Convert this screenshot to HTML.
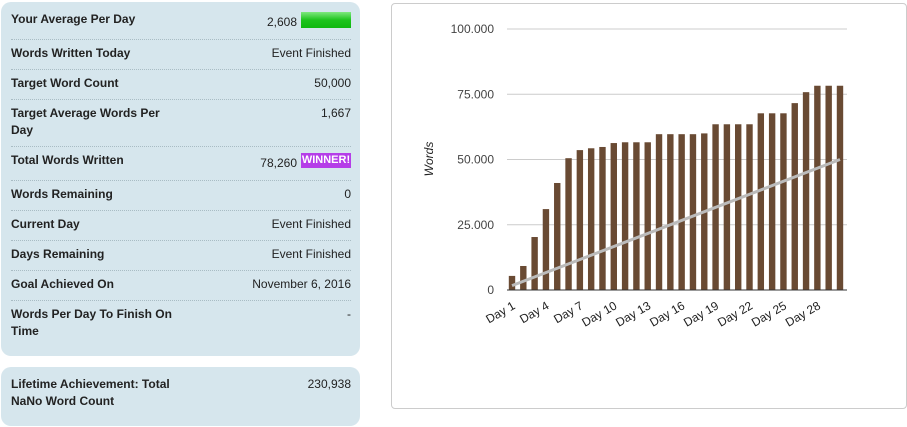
<!DOCTYPE html>
<html><head><meta charset="utf-8"><style>
body{margin:0;width:907px;height:427px;background:#fff;font-family:"Liberation Sans",Arial,sans-serif;font-size:12px;color:#222;position:relative;overflow:hidden}
.p{position:absolute;background:#d6e6ed;border-radius:10px}
.l{position:absolute;left:11px;font-weight:bold;line-height:17px;width:170px}
.v{position:absolute;left:200px;width:151px;line-height:17px;text-align:right;white-space:nowrap}
.d{position:absolute;left:11px;width:340px;border-top:1px dotted #a9bcc4}
</style></head><body>
<div class="p" style="left:1px;top:2px;width:359px;height:354px"></div>
<div class="p" style="left:1px;top:367px;width:359px;height:59px"></div>

<div class="l" style="top:11px">Your Average Per Day</div>
<div class="v" style="top:14px;width:97px">2,608</div>
<div style="position:absolute;left:301px;top:12px;width:50px;height:16px;background:linear-gradient(#7ee87e,#1dc41d 50%,#0fb80f)"></div>
<div class="d" style="top:39px"></div>
<div class="l" style="top:45px">Words Written Today</div>
<div class="v" style="top:45px">Event Finished</div>
<div class="d" style="top:69px"></div>
<div class="l" style="top:75px">Target Word Count</div>
<div class="v" style="top:75px">50,000</div>
<div class="d" style="top:99px"></div>
<div class="l" style="top:105px">Target Average Words Per Day</div>
<div class="v" style="top:105px">1,667</div>
<div class="d" style="top:146px"></div>
<div class="l" style="top:152px">Total Words Written</div>
<div class="v" style="top:155px;width:97px">78,260</div>
<div style="position:absolute;left:301px;top:153px;width:50px;height:15px;background:#b53ee8;color:#fff;font-weight:bold;font-size:11px;line-height:15px;text-align:center">WINNER!</div>
<div class="d" style="top:180px"></div>
<div class="l" style="top:186px">Words Remaining</div>
<div class="v" style="top:186px">0</div>
<div class="d" style="top:210px"></div>
<div class="l" style="top:216px">Current Day</div>
<div class="v" style="top:216px">Event Finished</div>
<div class="d" style="top:240px"></div>
<div class="l" style="top:246px">Days Remaining</div>
<div class="v" style="top:246px">Event Finished</div>
<div class="d" style="top:270px"></div>
<div class="l" style="top:276px">Goal Achieved On</div>
<div class="v" style="top:276px">November 6, 2016</div>
<div class="d" style="top:300px"></div>
<div class="l" style="top:306px">Words Per Day To Finish On Time</div>
<div class="v" style="top:306px">-</div>
<div class="l" style="top:376px;width:180px">Lifetime Achievement: Total NaNo Word Count</div>
<div class="v" style="top:376px">230,938</div>

<div style="position:absolute;left:391px;top:3px;width:514px;height:404px;border:1px solid #ccc;border-radius:4px;background:#fff"></div>
<svg id="c" width="907" height="427" style="position:absolute;left:0;top:0" font-family="Liberation Sans, Arial, sans-serif" font-size="12"></svg>
<script>
var v=[5400,9200,20300,31000,41000,50500,53600,54300,54800,56300,56600,56600,56600,59700,59700,59700,59700,60000,63500,63500,63500,63500,67700,67700,67700,71600,75800,78260,78260,78260];
var s='',y0=290,k=(290-29)/100000;
[0,25000,50000,75000,100000].forEach(function(t){var y=y0-t*k;
 if(t)s+='<line x1="507" x2="847" y1="'+y+'" y2="'+y+'" stroke="#ccc"/>';
 s+='<text x="494" y="'+(y+4)+'" text-anchor="end" fill="#444">'+(t?(t/1000)+'.000':'0')+'</text>';});
v.forEach(function(d,i){var cx=512+i*11.31;s+='<rect x="'+(cx-3.2)+'" y="'+(y0-d*k)+'" width="6.4" height="'+(d*k)+'" fill="#694a33"/>';
 if(i%3==0)s+='<text transform="translate('+(cx+4)+',308) rotate(-30)" text-anchor="end" fill="#222">Day '+(i+1)+'</text>';});
s+='<line x1="507" x2="847" y1="290" y2="290" stroke="#333"/>';
s+='<line x1="512" y1="'+(y0-1667*k)+'" x2="'+(512+29*11.31)+'" y2="'+(y0-50000*k)+'" stroke="#bbb" stroke-width="3"/>';
s+='<text transform="translate(433,159) rotate(-90)" text-anchor="middle" font-style="italic" fill="#222">Words</text>';
document.getElementById('c').innerHTML=s;
</script>
</body></html>
